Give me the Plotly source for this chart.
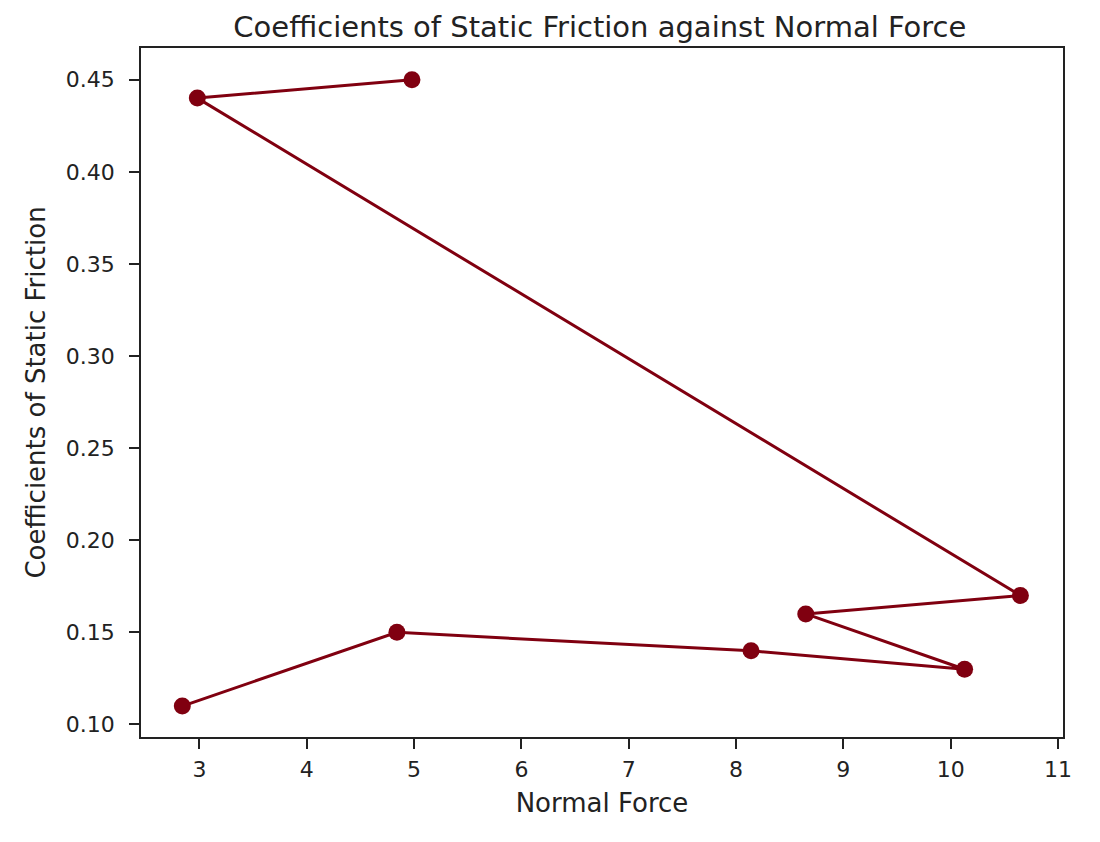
import plotly.graph_objects as go

# Normal force vs. coefficient of static friction (in plotting order)
normal_force = [4.98, 2.98, 10.65, 8.65, 10.13, 8.14, 4.84, 2.84]
static_friction = [0.45, 0.44, 0.17, 0.16, 0.13, 0.14, 0.15, 0.11]

x_ticks = [3, 4, 5, 6, 7, 8, 9, 10, 11]
y_ticks = [0.10, 0.15, 0.20, 0.25, 0.30, 0.35, 0.40, 0.45]
y_tick_text = [f"{v:.2f}" for v in y_ticks]

line_color = "#800010"
font_family = "DejaVu Sans"

fig = go.Figure(go.Scatter(
    x=normal_force,
    y=static_friction,
    mode="lines+markers",
    line=dict(color=line_color, width=3),
    marker=dict(color=line_color, size=17),
    hovertemplate="Normal Force: %{x}<br>Coefficient: %{y}<extra></extra>",
))

axis_style = dict(
    showgrid=False,
    zeroline=False,
    showline=True,
    linecolor="#222",
    linewidth=1.5,
    mirror=True,
    ticks="outside",
    ticklen=10,
    tickwidth=1.5,
    tickcolor="#222",
    tickfont=dict(size=22, color="#222", family=font_family),
)

# page body has an 8px margin, so the figure is a bit smaller than the window
fig.update_layout(
    width=1092,
    height=834,
    paper_bgcolor="white",
    plot_bgcolor="white",
    showlegend=False,
    margin=dict(l=133, r=37, t=40, b=105),
    title=dict(
        text="Coefficients of Static Friction against Normal Force",
        x=0.542, xanchor="center",
        y=0.977, yanchor="middle",
        font=dict(size=29, color="#222", family=font_family),
    ),
)

fig.update_xaxes(
    axis_style,
    range=[2.455, 11.047],
    tickvals=x_ticks,
    ticklabelstandoff=2,
    title=dict(text="Normal Force", standoff=13,
               font=dict(size=26, color="#222", family=font_family)),
)
fig.update_yaxes(
    axis_style,
    range=[0.0932, 0.4672],
    tickvals=y_ticks,
    ticktext=y_tick_text,
    ticklabelstandoff=10,
    title=dict(text="Coefficients of Static Friction", standoff=13,
               font=dict(size=26, color="#222", family=font_family)),
)

fig.write_html("out.html")
